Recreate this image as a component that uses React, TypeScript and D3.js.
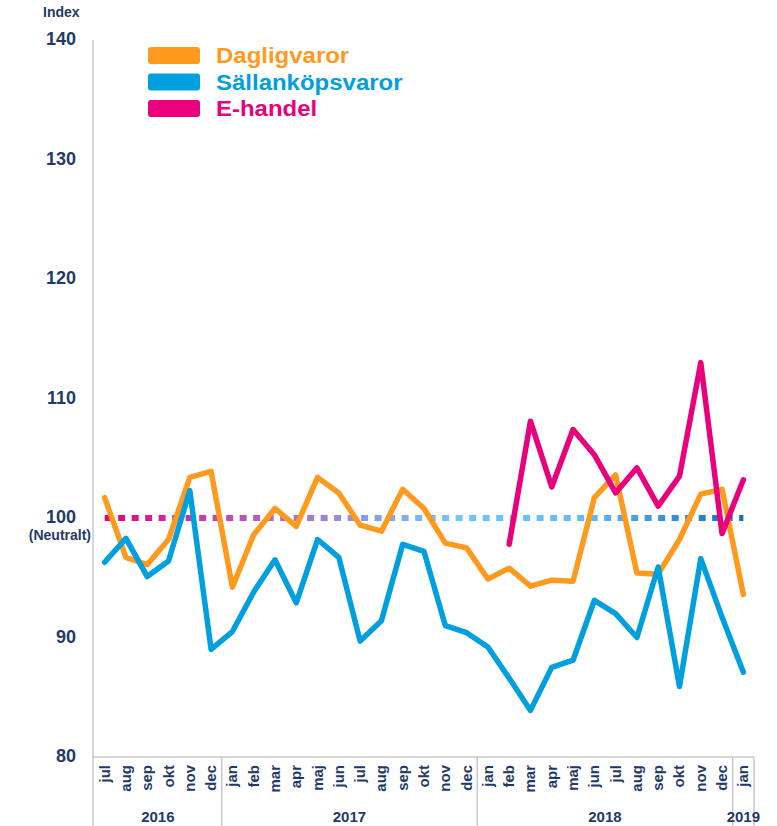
import { useEffect, useRef } from 'react';
import * as d3 from 'd3';

const months = [
  'jul', 'aug', 'sep', 'okt', 'nov', 'dec',
  'jan', 'feb', 'mar', 'apr', 'maj', 'jun', 'jul', 'aug', 'sep', 'okt', 'nov', 'dec',
  'jan', 'feb', 'mar', 'apr', 'maj', 'jun', 'jul', 'aug', 'sep', 'okt', 'nov', 'dec',
  'jan',
];
const years = [
  { label: '2016', from: 0, to: 5 },
  { label: '2017', from: 6, to: 17 },
  { label: '2018', from: 18, to: 29 },
  { label: '2019', from: 30, to: 30 },
];

const dagligvaror = [
  101.7, 96.7, 96.1, 98.2, 103.4, 103.9,
  94.2, 98.6, 100.8, 99.3, 103.4, 102.1, 99.4, 98.9, 102.4, 100.8, 97.9, 97.5,
  94.9, 95.8, 94.3, 94.8, 94.7, 101.7, 103.6, 95.4, 95.3, 98.2, 102.0, 102.4,
  93.6,
];
const sallankop = [
  96.3, 98.3, 95.1, 96.4, 102.3, 89.0,
  90.5, 93.8, 96.5, 92.9, 98.2, 96.7, 89.7, 91.4, 97.8, 97.2, 91.0, 90.4,
  89.2, 86.6, 83.9, 87.5, 88.1, 93.1, 92.0, 90.0, 95.9, 85.9, 96.6, 91.7,
  87.1,
];
// E-handel starts in feb 2018
const ehandel: (number | null)[] = [
  null, null, null, null, null, null,
  null, null, null, null, null, null, null, null, null, null, null, null,
  null, 97.8, 108.1, 102.6, 107.4, 105.3, 102.1, 104.2, 101.0, 103.5, 113.0, 98.7,
  103.2,
];
const NEUTRAL = 100;
const yTicks = [80, 90, 100, 110, 120, 130, 140];

const series = [
  { name: 'Dagligvaror', color: '#FF9A1E', values: dagligvaror as (number | null)[] },
  { name: 'Sällanköpsvaror', color: '#00A0DE', values: sallankop as (number | null)[] },
  { name: 'E-handel', color: '#E8007D', values: ehandel },
];

const navy = '#1F3A68';
const font = '"Liberation Sans", Arial, sans-serif';

export default function App() {
  const ref = useRef<SVGSVGElement | null>(null);

  useEffect(() => {
    const width = 777;
    const height = 826;
    const left = 94;
    const right = 754;
    const top = 40;
    const bottom = 757;

    const svg = d3.select(ref.current);
    svg.selectAll('*').remove();
    svg.attr('width', width).attr('height', height);

    const idx = months.map((_, i) => i);
    const x = d3.scaleBand<number>().domain(idx).range([left, right]);
    const cx = (i: number) => x(i)! + x.bandwidth() / 2;
    const y = d3.scaleLinear().domain([80, 140]).range([bottom, top]);

    // gradient for the neutral dotted line
    const defs = svg.append('defs');
    const grad = defs.append('linearGradient')
      .attr('id', 'neutral')
      .attr('gradientUnits', 'userSpaceOnUse')
      .attr('x1', cx(0)).attr('x2', cx(months.length - 1))
      .attr('y1', 0).attr('y2', 0);
    [
      [0, '#E6007E'], [0.15, '#C83CA8'], [0.35, '#9A86DA'],
      [0.55, '#6EC6FF'], [0.75, '#62BCF8'], [0.88, '#3592D6'], [1, '#1670B5'],
    ].forEach(([o, c]) => grad.append('stop').attr('offset', o as number).attr('stop-color', c as string));

    // axes lines
    svg.append('line')
      .attr('x1', left - 1).attr('x2', left - 1)
      .attr('y1', top).attr('y2', bottom)
      .attr('stroke', '#C8C8C8').attr('stroke-width', 1.5);
    svg.append('line')
      .attr('x1', left - 1).attr('x2', right)
      .attr('y1', bottom).attr('y2', bottom)
      .attr('stroke', '#C8C8C8').attr('stroke-width', 1.5);

    // year separators
    const seps = [x(0)! - 1, ...years.slice(1).map((yr) => x(yr.from)!), right];
    svg.append('g').selectAll('line')
      .data(seps)
      .enter()
      .append('line')
      .attr('x1', (d) => d).attr('x2', (d) => d)
      .attr('y1', bottom).attr('y2', height)
      .attr('stroke', '#C8C8C8').attr('stroke-width', 1.5);

    // y tick labels
    svg.append('g').selectAll('text')
      .data(yTicks)
      .enter()
      .append('text')
      .attr('x', 76)
      .attr('y', (d) => y(d))
      .attr('dy', '0.3em')
      .attr('text-anchor', 'end')
      .attr('font-family', font)
      .attr('font-weight', 'bold')
      .attr('font-size', '18px')
      .attr('fill', navy)
      .text((d) => d);

    svg.append('text')
      .attr('x', 91).attr('y', y(NEUTRAL) + 22)
      .attr('text-anchor', 'end')
      .attr('font-family', font).attr('font-weight', 'bold').attr('font-size', '14px')
      .attr('fill', navy)
      .text('(Neutralt)');

    svg.append('text')
      .attr('x', 43).attr('y', 17)
      .attr('font-family', font).attr('font-weight', 'bold').attr('font-size', '14px')
      .attr('fill', navy)
      .text('Index');

    // month labels (rotated)
    svg.append('g').selectAll('text')
      .data(idx)
      .enter()
      .append('text')
      .attr('transform', (i) => `translate(${cx(i) + 5}, 765) rotate(-90)`)
      .attr('text-anchor', 'end')
      .attr('font-family', font).attr('font-weight', 'bold').attr('font-size', '15px')
      .attr('fill', navy)
      .text((i) => months[i]);

    // year labels
    svg.append('g').selectAll('text')
      .data(years)
      .enter()
      .append('text')
      .attr('x', (d) => (x(d.from)! + x(d.to)! + x.bandwidth()) / 2)
      .attr('y', 822)
      .attr('text-anchor', 'middle')
      .attr('font-family', font).attr('font-weight', 'bold').attr('font-size', '15px')
      .attr('fill', navy)
      .text((d) => d.label);

    // neutral dotted line
    svg.append('line')
      .attr('x1', cx(0)).attr('x2', cx(months.length - 1))
      .attr('y1', y(NEUTRAL)).attr('y2', y(NEUTRAL) + 0.01)
      .attr('stroke', 'url(#neutral)')
      .attr('stroke-width', 6)
      .attr('stroke-dasharray', '7 6.5');

    // series lines
    const line = d3.line<number | null>()
      .defined((d) => d !== null)
      .x((_, i) => cx(i))
      .y((d) => y(d as number));

    svg.append('g').selectAll('path')
      .data(series)
      .enter()
      .append('path')
      .attr('d', (s) => line(s.values))
      .attr('fill', 'none')
      .attr('stroke', (s) => s.color)
      .attr('stroke-width', 5.5)
      .attr('stroke-linejoin', 'round')
      .attr('stroke-linecap', 'round');

    // legend
    const legend = svg.append('g').attr('transform', 'translate(148, 47)');
    const items = legend.selectAll('.legend-item')
      .data(series)
      .enter()
      .append('g')
      .attr('class', 'legend-item')
      .attr('transform', (_, i) => `translate(0, ${i * 26.5})`);
    items.append('rect')
      .attr('width', 52).attr('height', 17)
      .attr('rx', 3).attr('ry', 3)
      .attr('fill', (s) => s.color);
    items.append('text')
      .attr('transform', 'translate(68, 16) scale(1.09, 1)')
      .attr('font-family', font).attr('font-weight', 'bold').attr('font-size', '22px')
      .attr('fill', (s) => s.color)
      .text((s) => s.name);
  }, []);

  return <svg ref={ref} style={{ position: 'absolute', left: 0, top: 0, display: 'block' }} />;
}
